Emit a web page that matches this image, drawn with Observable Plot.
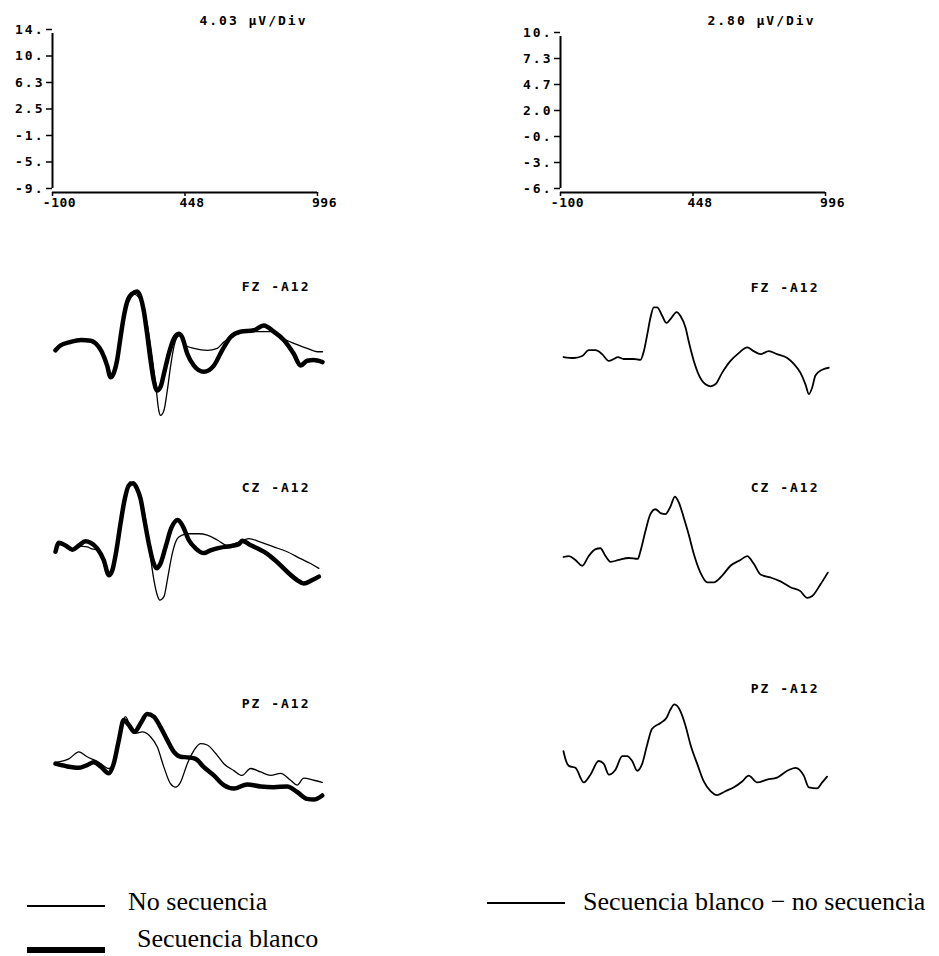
<!DOCTYPE html>
<html>
<head>
<meta charset="utf-8">
<script src="https://cdn.jsdelivr.net/npm/d3@7"></script>
<script src="https://cdn.jsdelivr.net/npm/@observablehq/plot@0.6"></script>
<style>
  body { margin: 0; background: #fff; }
  #fig { position: relative; width: 939px; height: 956px; background: #fff; overflow: hidden; }
  #fig svg { position: absolute; overflow: visible; background: transparent; }
  .mono text { font-family: "DejaVu Sans Mono", monospace; font-size: 13px; font-weight: bold; letter-spacing: 2px; fill: #000; }
  .mono .xlab text { letter-spacing: 0.5px; }
  .legend { position: absolute; font-family: "Liberation Serif", "Times New Roman", serif; font-size: 26px; line-height: 30px; color: #000; white-space: nowrap; }
  .swatch { position: absolute; background: #000; }
</style>
</head>
<body>
<div id="fig"></div>
<script>
// ---- time axis (ms) and amplitude frames (µV) ----
const timeDomain = [-100, 996];
const xTicks = [-100, 448, 996];
const xTickLabels = ["-100", "448", "996"];

const leftDomain = [-9, 14];
const leftTickLabels = ["14.", "10.", "6.3", "2.5", "-1.", "-5.", "-9."];
const leftScaleTitle = "4.03 µV/Div";

const rightDomain = [-6, 10];
const rightTickLabels = ["10.", "7.3", "4.7", "2.0", "-0.", "-3.", "-6."];
const rightScaleTitle = "2.80 µV/Div";

const channels = ["FZ -A12", "CZ -A12", "PZ -A12"];
const legendLeft = ["No secuencia", "Secuencia blanco"];
const legendRight = "Secuencia blanco \u2212 no secuencia";

// ---- averaged waveforms, [ms, µV] ----
const fzNoSec = [[-100,-0.3],[-80,0.4],[-40,0.9],[5,1.2],[45,1.1],[65,0.7],[90,-0.5],[112,-2.5],[126,-4.2],[139,-3.6],[153,-1.7],[167,1.6],[180,4.5],[194,6.8],[210,7.7],[224,7.8],[249,6.9],[276,3.6],[297,-1.3],[311,-5.1],[324,-9.0],[331,-9.7],[345,-9.0],[359,-6.1],[372,-2.7],[386,0.2],[400,1.6],[413,1.9],[434,0.4],[468,0.0],[523,-0.3],[564,0.0],[591,0.9],[632,1.9],[687,2.4],[742,2.4],[783,2.4],[824,1.6],[878,0.7],[933,0.0],[974,-0.5],[996,-0.5]];
const fzSecBlanco = [[-100,-0.3],[-80,0.4],[-40,0.9],[5,1.2],[45,1.1],[65,0.7],[90,-0.5],[112,-2.5],[126,-4.2],[139,-3.6],[153,-1.7],[167,1.6],[180,4.5],[194,6.7],[215,7.9],[235,8.2],[249,7.4],[262,5.5],[276,2.1],[290,-1.7],[303,-4.6],[317,-6.1],[331,-5.6],[345,-3.7],[365,-0.8],[386,1.4],[406,2.1],[420,1.6],[441,-0.8],[468,-2.5],[509,-3.4],[550,-2.5],[584,-0.3],[618,1.6],[659,2.4],[714,2.6],[755,3.3],[796,2.4],[837,1.2],[878,-0.8],[906,-2.5],[933,-1.8],[960,-1.7],[996,-2.0]];

const czNoSec = [[-100,-0.5],[-86,0.8],[-59,0.4],[-31,-0.2],[-4,0.3],[30,0.2],[50,-0.1],[71,-0.2],[98,-1.7],[119,-3.9],[133,-3.2],[150,-0.3],[167,3.6],[183,6.9],[205,9.6],[249,7.4],[270,4.1],[290,-1.3],[304,-4.6],[318,-6.8],[328,-7.5],[345,-7.0],[361,-4.2],[379,-0.8],[400,1.4],[420,1.9],[447,2.1],[488,2.1],[523,1.9],[564,1.2],[605,0.4],[653,0.9],[694,1.4],[742,0.9],[796,0.2],[851,-0.5],[906,-1.5],[947,-2.2],[981,-2.9]];
const czSecBlanco = [[-100,-0.5],[-86,0.8],[-59,0.4],[-31,-0.2],[-4,0.4],[23,1.0],[44,0.8],[71,0.0],[98,-1.7],[119,-3.9],[133,-3.2],[150,-0.3],[167,3.6],[183,6.9],[201,9.1],[219,9.4],[235,8.6],[249,7.2],[265,4.1],[283,0.7],[301,-2.0],[315,-2.9],[331,-2.2],[352,0.2],[375,2.9],[402,4.1],[424,3.1],[447,1.2],[475,0.0],[509,-0.7],[536,-0.3],[577,0.1],[618,0.3],[653,0.6],[666,1.1],[694,0.6],[728,0.0],[769,-0.8],[810,-2.0],[851,-3.4],[892,-4.6],[919,-5.1],[954,-4.6],[981,-4.1]];

const pzNoSec = [[-100,0.0],[-45,0.5],[-4,1.5],[30,0.8],[78,0.0],[119,-0.9],[139,-0.2],[160,3.2],[187,6.6],[208,5.1],[228,4.2],[256,4.4],[290,3.7],[318,2.2],[345,-0.7],[372,-3.1],[393,-3.6],[413,-2.9],[441,-0.2],[468,1.7],[495,2.7],[523,2.5],[557,1.3],[591,-0.2],[632,-1.2],[666,-1.9],[701,-0.9],[742,-1.4],[783,-1.9],[824,-1.6],[865,-2.6],[892,-3.3],[919,-2.3],[960,-2.6],[995,-2.9]];
const pzSecBlanco = [[-100,-0.2],[-52,-0.6],[-4,-0.8],[30,-0.4],[57,0.0],[85,-0.6],[119,-1.6],[139,-0.2],[160,3.2],[180,6.1],[201,5.4],[224,4.4],[249,5.6],[276,7.0],[304,6.6],[331,5.1],[359,3.2],[386,1.5],[413,0.8],[447,0.7],[475,0.5],[509,-0.7],[550,-1.9],[591,-3.3],[632,-3.8],[687,-3.2],[742,-3.5],[796,-3.6],[851,-3.5],[892,-4.3],[933,-5.3],[960,-5.4],[995,-4.8]];

// difference waves: Secuencia blanco − no secuencia
const fzDiff = [[-100,0.1],[-58,0.0],[-23,0.2],[4,0.8],[32,0.8],[59,0.4],[87,-0.3],[107,-0.1],[124,0.1],[148,-0.1],[190,-0.1],[217,-0.2],[231,0.7],[245,2.4],[258,4.1],[272,5.2],[286,5.2],[307,4.3],[324,3.6],[344,4.1],[366,4.7],[382,4.3],[403,3.1],[416,1.7],[437,-0.3],[457,-1.7],[485,-2.7],[506,-2.9],[526,-2.7],[554,-1.5],[588,-0.3],[622,0.5],[657,1.1],[684,0.7],[712,0.4],[746,0.7],[780,0.4],[822,0.0],[849,-0.6],[876,-1.5],[897,-2.7],[911,-3.7],[925,-3.0],[938,-1.8],[966,-1.2],[993,-1.0]];
const czDiff = [[-100,0.0],[-78,0.1],[-51,-0.3],[-23,-0.9],[4,0.1],[32,0.8],[52,0.9],[73,0.1],[94,-0.5],[128,-0.3],[169,-0.1],[206,-0.2],[217,0.6],[238,2.7],[258,4.4],[279,4.9],[300,4.5],[320,4.4],[341,5.2],[359,6.2],[375,5.6],[396,4.0],[416,2.3],[437,0.3],[464,-1.6],[492,-2.6],[519,-2.6],[554,-1.9],[588,-0.9],[629,-0.3],[657,0.1],[684,-0.7],[712,-1.8],[753,-2.1],[794,-2.5],[835,-3.1],[876,-3.5],[904,-4.2],[925,-4.0],[959,-2.8],[989,-1.6]];
const pzDiff = [[-100,1.0],[-92,0.2],[-78,-0.5],[-51,-0.7],[-16,-2.2],[11,-1.4],[45,0.0],[66,-0.3],[87,-1.4],[114,-0.9],[142,0.5],[162,0.5],[183,0.0],[204,-1.0],[224,-0.3],[245,1.7],[265,3.3],[300,3.9],[324,4.4],[341,5.3],[357,5.8],[382,5.1],[403,3.6],[423,1.7],[451,-0.3],[478,-2.1],[506,-3.1],[533,-3.5],[567,-3.1],[602,-2.7],[636,-2.1],[663,-1.5],[698,-2.2],[739,-1.9],[780,-1.7],[822,-1.0],[856,-0.7],[890,-1.5],[911,-2.7],[945,-2.8],[966,-2.2],[986,-1.6]];

// ---- layout ----
const fig = document.getElementById("fig");

function place(el, left, top, cls) {
  el.style.left = left + "px";
  el.style.top = top + "px";
  if (cls) el.classList.add(cls);
  fig.appendChild(el);
  return el;
}

// Amplitude/time frame shown above each column
function frame({domain, tickLabels, title, marginTop, plotHeight, titleDy}) {
  const [lo, hi] = domain;
  const n = tickLabels.length - 1;
  const yTicks = tickLabels.map((_, i) => hi - (i * (hi - lo)) / n);
  const yFmt = (d) => tickLabels[yTicks.indexOf(d)];
  const xFmt = (d) => xTickLabels[xTicks.indexOf(d)];
  const span = 265, mL = 52, mR = 40, mB = 20;
  return Plot.plot({
    width: mL + span + mR,
    height: marginTop + plotHeight + 4 + mB,
    marginLeft: mL, marginRight: mR, marginTop, marginBottom: mB,
    style: {background: "transparent", overflow: "visible"},
    x: {domain: timeDomain, axis: null},
    y: {domain, axis: null, insetBottom: 4},
    marks: [
      Plot.ruleX([timeDomain[0]], {y1: lo, y2: hi, insetBottom: -4, strokeWidth: 2}),
      Plot.ruleY([lo], {x1: timeDomain[0], x2: timeDomain[1], dy: 4, strokeWidth: 2}),
      Plot.axisY(yTicks, {anchor: "left", tickSize: 6, tickPadding: 2, tickFormat: yFmt, strokeWidth: 1.5}),
      Plot.axisX(xTicks, {anchor: "bottom", tickSize: 4, tickFormat: () => "", strokeWidth: 1.5}),
      Plot.axisX(xTicks, {anchor: "bottom", tickSize: 0, tickPadding: 5, tickFormat: xFmt, dx: 7, className: "xlab"}),
      Plot.text([title], {frameAnchor: "top-right", textAnchor: "end", lineAnchor: "middle", dx: -10, dy: titleDy})
    ]
  });
}

place(frame({domain: leftDomain, tickLabels: leftTickLabels, title: leftScaleTitle, marginTop: 29, plotHeight: 159, titleDy: -9}), 0, 0, "mono");
place(frame({domain: rightDomain, tickLabels: rightTickLabels, title: rightScaleTitle, marginTop: 32, plotHeight: 156, titleDy: -12}), 508, 0, "mono");

// One channel panel: waveforms on the column's µV scale, no axes
function panel({domain, width, height, series, label, labelDx, labelDy}) {
  return Plot.plot({
    width, height, margin: 0,
    style: {background: "transparent", overflow: "visible"},
    x: {domain: timeDomain, axis: null},
    y: {domain, axis: null},
    marks: [
      ...series.map(([data, w]) => Plot.line(data, {
        x: (d) => d[0], y: (d) => d[1],
        stroke: "black", strokeWidth: w, curve: "monotone-x",
        strokeLinejoin: "round", strokeLinecap: "round"
      })),
      Plot.text([label], {frameAnchor: "top-right", textAnchor: "end", lineAnchor: "middle", dx: labelDx, dy: labelDy})
    ]
  });
}

const leftCol = [
  {series: [[fzSecBlanco, 4.5], [fzNoSec, 1.3]], top: 251.2, labelDy: 35},
  {series: [[czSecBlanco, 4.5], [czNoSec, 1.3]], top: 451.2, labelDy: 36},
  {series: [[pzSecBlanco, 4.5], [pzNoSec, 1.3]], top: 665.2, labelDy: 38}
];
const rightCol = [
  {series: [[fzDiff, 1.8]], top: 259.5, labelDy: 27.5},
  {series: [[czDiff, 1.8]], top: 458.5, labelDy: 28.5},
  {series: [[pzDiff, 1.8]], top: 662.5, labelDy: 25.5}
];

leftCol.forEach((p, i) => {
  place(panel({domain: leftDomain, width: 267, height: 159, series: p.series,
    label: channels[i], labelDx: -12, labelDy: p.labelDy}), 55, p.top, "mono");
});
rightCol.forEach((p, i) => {
  place(panel({domain: rightDomain, width: 266, height: 156, series: p.series,
    label: channels[i], labelDx: -10, labelDy: p.labelDy}), 563, p.top, "mono");
});

// ---- legend ----
function swatch(left, top, w, h) {
  const d = document.createElement("div");
  d.className = "swatch";
  Object.assign(d.style, {left: left + "px", top: top + "px", width: w + "px", height: h + "px"});
  fig.appendChild(d);
}
function legendText(text, left, centerY) {
  const d = document.createElement("div");
  d.className = "legend";
  d.textContent = text;
  d.style.left = left + "px";
  d.style.top = (centerY - 16) + "px";
  fig.appendChild(d);
}
swatch(27, 905, 78, 2);
legendText(legendLeft[0], 128, 903);
swatch(27, 947, 78, 6);
legendText(legendLeft[1], 137, 940);
swatch(487, 902, 78, 2);
legendText(legendRight, 583, 903);
</script>
</body>
</html>
